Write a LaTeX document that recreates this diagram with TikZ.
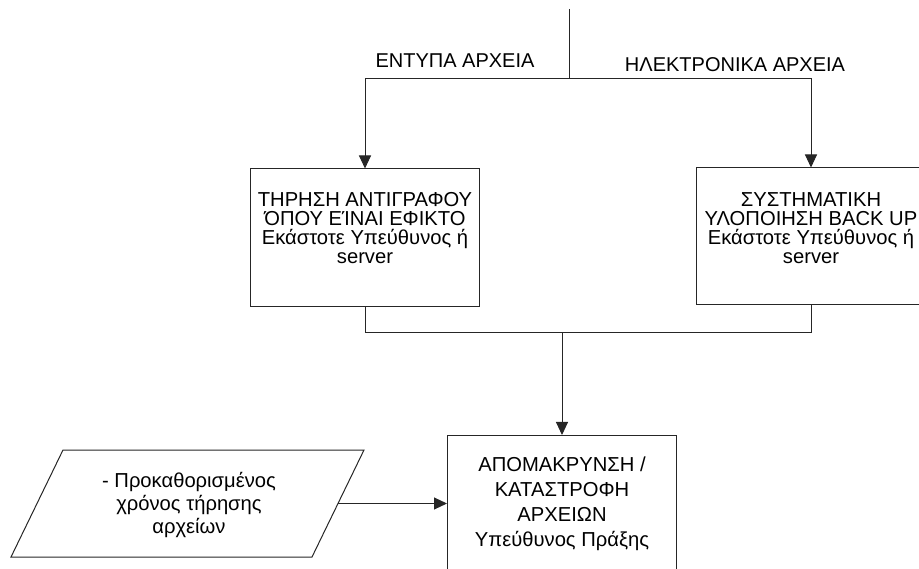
\documentclass[tikz,border=0pt]{standalone}
\usepackage{fontspec}
\setmainfont{Liberation Sans}
\usetikzlibrary{arrows.meta,shapes.geometric}

\tikzset{
  line/.style={draw=black!85, line width=1pt},
  flow/.style={line, -{Triangle[length=13pt,width=12pt]}},
  procbox/.style={line, fill=white, rectangle, minimum width=229pt, inner sep=0pt},
  boxtext/.style={align=center, font=\fontsize{20.2pt}{19pt}\selectfont, inner sep=0pt},
  lbl/.style={font=\fontsize{20pt}{22pt}\selectfont, inner sep=0pt}
}

\begin{document}
\begin{tikzpicture}[x=1pt, y=-1pt]
  \useasboundingbox (0,0) rectangle (919,569);

  % incoming flow and split
  \coordinate (src) at (569,9);
  \coordinate (split) at (569,79);

  % upper process boxes
  \node[procbox, minimum height=138pt] (lbox) at (365,238) {};
  \node[boxtext, anchor=north] (ltext) at (365,192.5)
    {ΤΗΡΗΣΗ ΑΝΤΙΓΡΑΦΟΥ\\ΌΠΟΥ ΕΊΝΑΙ ΕΦΙΚΤΟ\\Εκάστοτε Υπεύθυνος ή\\server};

  \node[procbox, minimum height=137pt] (rbox) at (811,236.5) {};
  \node[boxtext, anchor=north] (rtext) at (811,192.5)
    {ΣΥΣΤΗΜΑΤΙΚΗ\\ΥΛΟΠΟΙΗΣΗ BACK UP\\Εκάστοτε Υπεύθυνος ή\\server};

  % branch labels
  \node[lbl] (lblA) at (455,61) {ΕΝΤΥΠΑ ΑΡΧΕΙΑ};
  \node[lbl] (lblB) at (735,65) {ΗΛΕΚΤΡΟΝΙΚΑ ΑΡΧΕΙΑ};

  % merge point and final box
  \coordinate (merge) at (562,333);
  \node[procbox, minimum height=150pt, anchor=north] (bbox) at (562,435) {};
  \node[boxtext, anchor=north, font=\fontsize{20.2pt}{25pt}\selectfont] (btext) at (562,456.5)
    {ΑΠΟΜΑΚΡΥΝΣΗ /\\ΚΑΤΑΣΤΡΟΦΗ\\ΑΡΧΕΙΩΝ\\Υπεύθυνος Πράξης};

  % retention-period input (parallelogram)
  \coordinate (p1) at (11,557);
  \coordinate (p2) at (312,557);
  \coordinate (p3) at (364,450);
  \coordinate (p4) at (63,450);
  \coordinate (pout) at (338,503.5);
  \draw[line] (p1) -- (p2) -- (p3) -- (p4) -- cycle;
  \node[boxtext, font=\fontsize{20.2pt}{23pt}\selectfont] (ptext) at (189,505)
    {- Προκαθορισμένος\\χρόνος τήρησης\\αρχείων};

  % connectors
  \draw[line] (src) -- (split);
  \draw[flow] (split) -| (lbox.north);
  \draw[flow] (split) -| (rbox.north);
  \draw[line] (lbox.south) |- (merge);
  \draw[line] (rbox.south) |- (merge);
  \draw[flow] (merge) -- (bbox.north);
  \draw[flow] (pout) -- (bbox.west |- pout);
\end{tikzpicture}
\end{document}
